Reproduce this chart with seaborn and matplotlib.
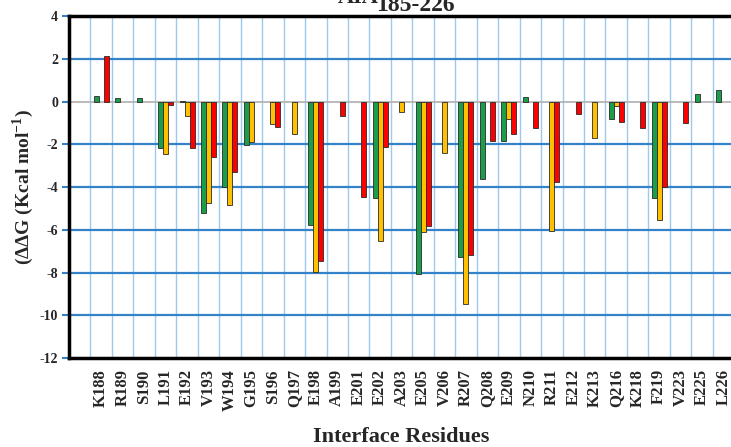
import matplotlib
matplotlib.use("Agg")
import matplotlib.pyplot as plt
import numpy as np
import pandas as pd
import seaborn as sns

# residues on the x axis
residues = ["K188", "R189", "S190", "L191", "E192", "V193", "W194", "G195", "S196", "Q197",
            "E198", "A199", "E201", "E202", "A203", "E205", "V206", "R207", "Q208", "E209",
            "N210", "R211", "E212", "K213", "Q216", "K218", "F219", "V223", "E225", "L226"]

# ddG values (kcal/mol), one list per bar colour; None = no bar
green_vals = [0.25, 0.17, 0.17, -2.18, 0.03, -5.23, -3.98, -2.03, None, None,
              -5.77, None, None, -4.5, None, -8.07, None, -7.25, -3.63, -1.86,
              0.2, None, None, None, -0.83, None, -4.52, None, 0.37, 0.56]
orange_vals = [None, None, None, -2.43, -0.69, -4.76, -4.84, -1.9, -1.06, -1.51,
               -7.99, None, None, -6.54, -0.5, -6.08, -2.4, -9.47, None, -0.81,
               None, -6.04, None, -1.72, -0.23, None, -5.52, None, None, None]
red_vals = [2.15, None, None, -0.16, -2.15, -2.6, -3.28, None, -1.2, None,
            -7.47, -0.69, -4.48, -2.14, None, -5.83, None, -7.18, -1.86, -1.51,
            -1.22, -3.74, -0.58, None, -0.94, -1.25, -3.98, -1.01, None, None]

series = ["green", "orange", "red"]
colors = ["#1a9e4a", "#ffc000", "#ff0000"]

df = pd.DataFrame({"residue": residues * 3,
                   "ddG": pd.to_numeric(pd.Series(green_vals + orange_vals + red_vals)),
                   "series": np.repeat(series, len(residues))})

sns.set_style("white")
plt.rcParams["font.family"] = ["Liberation Serif", "DejaVu Serif"]
plt.rcParams["font.weight"] = "bold"
plt.rcParams["axes.unicode_minus"] = False
plt.rcParams["mathtext.fontset"] = "custom"
plt.rcParams["mathtext.rm"] = "Liberation Serif:bold"
plt.rcParams["mathtext.bf"] = "Liberation Serif:bold"

fig = plt.figure(figsize=(7.31, 4.47), dpi=100)
ax = fig.add_axes([0.0944, 0.199, 0.91, 0.765])

sns.barplot(data=df, x="residue", y="ddG", hue="series", order=residues,
            hue_order=series, palette=colors, saturation=1, width=0.7, gap=0,
            edgecolor="#2a2a2a", linewidth=0.6, legend=False, ax=ax, zorder=3)

ax.set_xlim(-1.5, 29.5)
ax.set_ylim(-12, 4)
ax.set_yticks(np.arange(-12, 5, 2))

# grid: light vertical lines between residues, darker horizontal lines
for xb in np.arange(-0.5, 29.0, 1.0):
    ax.axvline(xb, color="#9dc9ec", lw=1.0, zorder=1)
for yv in [2, -2, -4, -6, -8, -10]:
    ax.axhline(yv, color="#3483c9", lw=1.6, zorder=1)
ax.axhline(0, color="#b5b5b5", lw=1.3, zorder=2)

for side in ["left", "top", "bottom"]:
    ax.spines[side].set_color("black")
    ax.spines[side].set_linewidth(2.5)
ax.spines["right"].set_visible(False)

ax.tick_params(axis="y", length=5, width=1.5, color="#3483c9", labelsize=10, pad=3, left=True)
ax.tick_params(axis="x", length=0, labelsize=12, pad=8)
plt.setp(ax.get_xticklabels(), rotation=90, fontweight="bold")
plt.setp(ax.get_yticklabels(), fontweight="bold")

ax.set_xlabel("Interface Residues", fontsize=16, fontweight="bold", labelpad=12)
ax.set_ylabel("(ΔΔG (Kcal mol$^{-1}$)", fontsize=14, fontweight="bold")
ax.yaxis.set_label_coords(-0.05, 0.5)

# title, top half cut off like the original
fig.text(0.462, 0.993, "AIA", fontsize=16, fontweight="bold", ha="left", va="baseline")
fig.text(0.515, 0.976, "185-226", fontsize=17, fontweight="bold", ha="left", va="baseline")

fig.savefig("out.png", dpi=100)
